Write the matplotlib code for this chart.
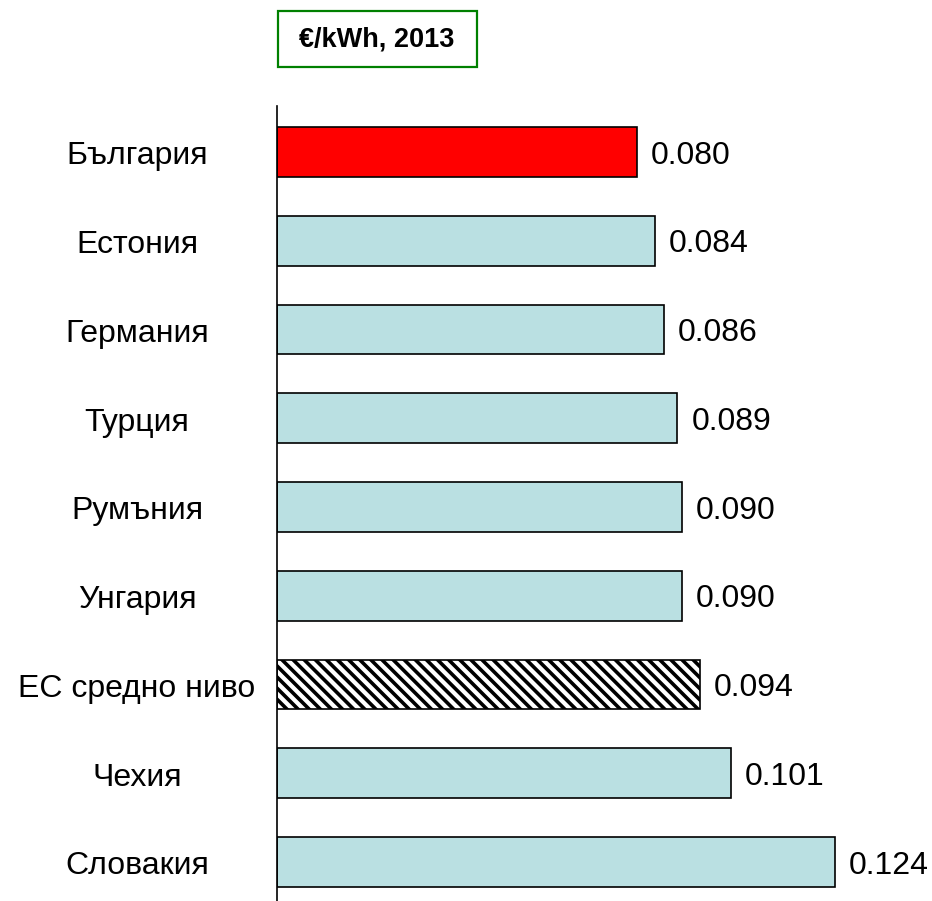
import matplotlib.pyplot as plt
from matplotlib.patches import Rectangle

plt.rcParams['font.family'] = ['Liberation Sans', 'DejaVu Sans']
plt.rcParams['hatch.linewidth'] = 2.6

# данни
countries = ['България', 'Естония', 'Германия', 'Турция', 'Румъния',
             'Унгария', 'ЕС средно ниво', 'Чехия', 'Словакия']
prices = [0.080, 0.084, 0.086, 0.089, 0.090, 0.090, 0.094, 0.101, 0.124]
value_labels = ['0.080', '0.084', '0.086', '0.089', '0.090',
                '0.090', '0.094', '0.101', '0.124']
title = '€/kWh, 2013'

colors = []
hatches = []
for c in countries:
    if c == 'България':
        colors.append('#FF0000')
        hatches.append(None)
    elif c == 'ЕС средно ниво':
        colors.append('white')
        hatches.append('\\\\\\')
    else:
        colors.append('#BAE0E2')
        hatches.append(None)

fig = plt.figure(figsize=(9.32, 9.01), dpi=100)
ax = fig.add_axes([0.2972, 0.0, 0.7028, 0.8824])

ypos = list(range(len(countries)))
bars = ax.barh(ypos, prices, height=0.56, color=colors,
               edgecolor='black', linewidth=1.2)
for b, h in zip(bars, hatches):
    if h:
        b.set_hatch(h)

ax.set_xlim(0, 0.1456)
ax.set_ylim(8.44, -0.518)

# стойности вдясно от лентите
for y, v, lab in zip(ypos, prices, value_labels):
    ax.annotate(lab, (v, y), xytext=(10, -8.5), textcoords='offset points',
                va='baseline', ha='left', fontsize=23)

# подписи на държавите
for y, c in zip(ypos, countries):
    ax.annotate(c, (-0.2137, y), xycoords=ax.get_yaxis_transform(),
                xytext=(0, -9), textcoords='offset points',
                ha='center', va='baseline', fontsize=23)

for s in ['top', 'right', 'bottom']:
    ax.spines[s].set_visible(False)
ax.spines['left'].set_linewidth(1.2)
ax.set_xticks([])
ax.set_yticks([])

# заглавие в рамка
fig.patches.append(Rectangle((277.5 / 932, 1 - 66.5 / 901), 199 / 932, 55 / 901,
                             transform=fig.transFigure, fill=False,
                             edgecolor='#008000', linewidth=1.6))
fig.text(377 / 932, 1 - 39.5 / 901, title, ha='center', va='center',
         fontsize=19.5, fontweight='bold')

fig.savefig('out.png', dpi=100)
